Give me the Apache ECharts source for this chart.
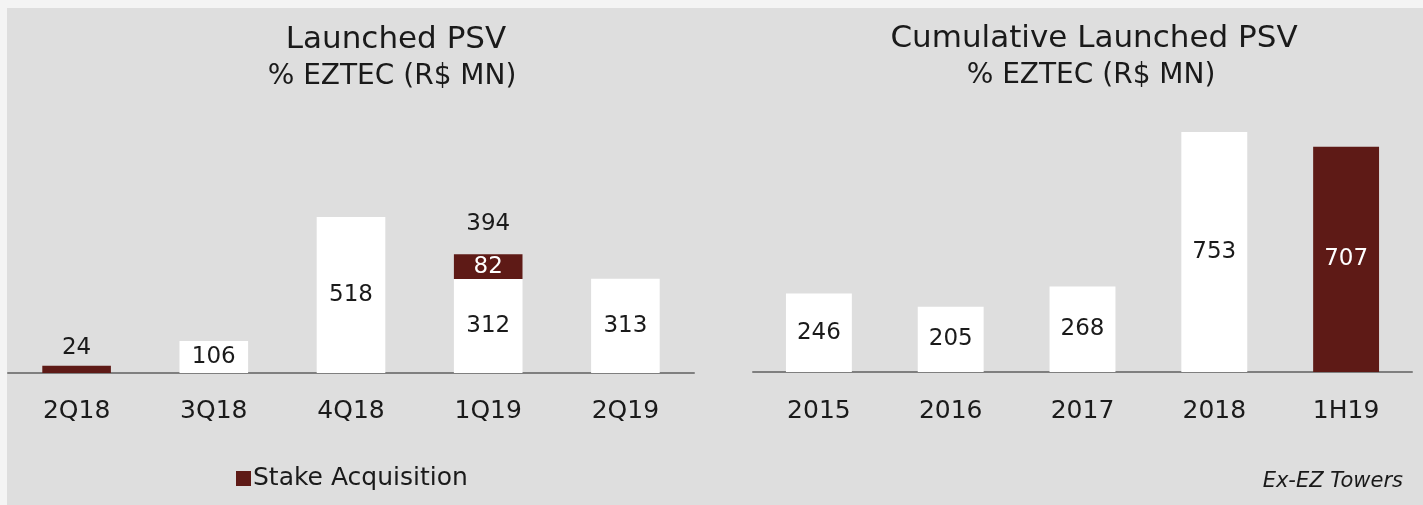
<!DOCTYPE html>
<html>
<head>
<meta charset="utf-8">
<script src="https://cdn.jsdelivr.net/npm/echarts@6/dist/echarts.min.js"></script>
<style>
html,body{margin:0;padding:0;background:#f4f4f4;}
#wrap{position:absolute;left:0;top:0;width:1423px;height:505px;background:#f4f4f4;}
#chart{position:absolute;left:7px;top:8px;width:1416px;height:497px;background:#dedede;}
</style>
</head>
<body>
<div id="wrap"><div id="chart"></div></div>
<script>
// ---- data ----
const quarters = ['2Q18', '3Q18', '4Q18', '1Q19', '2Q19'];
const launched = [null, 106, 518, 312, 313];
const stake = [24, null, null, 82, null];
const quarterTotals = [null, null, null, 394, null];
const years = ['2015', '2016', '2017', '2018', '1H19'];
const cumulative = [246, 205, 268, 753, 707];
const cumulativeIsStake = [false, false, false, false, true];

const FONT = 'DejaVu Sans';
const RED = '#5e1a16';
const INK = '#1a1a1a';
const OX = 7, OY = 8; // chart offset inside the page

const chart = echarts.init(document.getElementById('chart'), null, {renderer: 'canvas'});

function txt(text, x, y, size, extra) {
  return {type: 'text', x: x - OX, y: y - OY, silent: true,
    style: Object.assign({text: text, font: size + 'px "' + FONT + '"', fill: INK,
      textAlign: 'center', textVerticalAlign: 'middle'}, extra || {})};
}

const option = {
  backgroundColor: '#dedede',
  animation: false,
  textStyle: {fontFamily: FONT, color: INK},
  grid: [
    {left: 8 - OX, right: 1423 - 694, top: 132 - OY, bottom: 505 - 373, containLabel: false},
    {left: 753 - OX, right: 1423 - 1412, top: 117 - OY, bottom: 505 - 372, containLabel: false}
  ],
  xAxis: [
    {type: 'category', gridIndex: 0, data: quarters,
     axisLine: {lineStyle: {color: '#7f7f7f', width: 2}}, axisTick: {show: false},
     axisLabel: {fontFamily: FONT, fontSize: 25, color: INK, margin: 26}},
    {type: 'category', gridIndex: 1, data: years,
     axisLine: {lineStyle: {color: '#7f7f7f', width: 2}}, axisTick: {show: false},
     axisLabel: {fontFamily: FONT, fontSize: 25, color: INK, margin: 27}}
  ],
  yAxis: [
    {type: 'value', gridIndex: 0, min: 0, max: 800, show: false},
    {type: 'value', gridIndex: 1, min: 0, max: 800, show: false}
  ],
  legend: {
    data: ['Stake Acquisition'],
    left: 231 - OX, top: 461 - OY,
    itemWidth: 15, itemHeight: 15, itemGap: 10,
    icon: 'rect',
    textStyle: {fontFamily: FONT, fontSize: 25, color: INK, padding: [0, 0, 0, -3]}
  },
  series: [
    {name: 'Launched', type: 'bar', xAxisIndex: 0, yAxisIndex: 0, stack: 'q',
     data: launched, barWidth: '50%', barGap: '-100%',
     itemStyle: {color: '#ffffff'},
     label: {show: true, position: 'inside', fontFamily: FONT, fontSize: 23, color: INK}},
    {name: 'Stake Acquisition', type: 'bar', xAxisIndex: 0, yAxisIndex: 0, stack: 'q',
     data: stake.map((v, i) => (v === null ? null : {
       value: v,
       label: i === 0
         ? {show: true, position: 'top', distance: 6, color: INK}
         : {show: true, position: 'inside', color: '#ffffff'}
     })),
     barWidth: '50%', barGap: '-100%',
     itemStyle: {color: RED},
     label: {fontFamily: FONT, fontSize: 23}},
    {name: 'Total', type: 'bar', xAxisIndex: 0, yAxisIndex: 0, stack: 'total',
     data: quarterTotals, barWidth: '50%', barGap: '-100%', silent: true, z: 1,
     itemStyle: {color: 'rgba(0,0,0,0)'},
     label: {show: true, position: 'top', distance: 19, fontFamily: FONT, fontSize: 23, color: INK}},
    {name: 'Cumulative', type: 'bar', xAxisIndex: 1, yAxisIndex: 1,
     data: cumulative.map((v, i) => ({
       value: v,
       itemStyle: {color: cumulativeIsStake[i] ? RED : '#ffffff'},
       label: {color: cumulativeIsStake[i] ? '#ffffff' : INK}
     })),
     barWidth: '50%',
     label: {show: true, position: 'inside', fontFamily: FONT, fontSize: 23}}
  ],
  graphic: [
    txt('Launched PSV', 396, 40, 31),
    txt('% EZTEC (R$ MN)', 392, 77, 28),
    txt('Cumulative Launched PSV', 1094, 39, 31),
    txt('% EZTEC (R$ MN)', 1091, 76, 28),
    txt('Ex-EZ Towers', 1403, 482, 21, {font: 'italic 21px "' + FONT + '"', textAlign: 'right'})
  ]
};
chart.setOption(option);
</script>
</body>
</html>
